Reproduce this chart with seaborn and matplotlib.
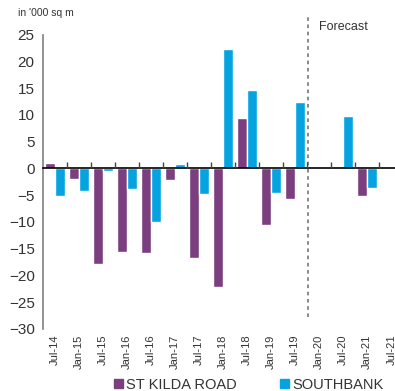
import pandas as pd
import seaborn as sns
import matplotlib.pyplot as plt
from matplotlib.patches import Patch

# Data
periods = ['Jul-14', 'Jan-15', 'Jul-15', 'Jan-16', 'Jul-16', 'Jan-17', 'Jul-17', 'Jan-18',
           'Jul-18', 'Jan-19', 'Jul-19', 'Jan-20', 'Jul-20', 'Jan-21', 'Jul-21']
st_kilda = [1.0, -2.0, -17.8, -15.7, -15.9, -2.2, -16.7, -22.1,
            9.4, -10.6, -5.8, 0.0, 0.0, -5.2, 0.0]
southbank = [-5.1, -4.3, -0.5, -3.8, -10.0, 0.9, -4.8, 22.4,
             14.6, -4.5, 12.5, 0.0, 9.8, -3.6, 0.0]
series_names = ['ST KILDA ROAD', 'SOUTHBANK']
colors = ['#7B3F80', '#05A3E0']

df = pd.DataFrame({
    'period': periods * 2,
    'series': [series_names[0]] * len(periods) + [series_names[1]] * len(periods),
    'value': st_kilda + southbank,
})

sns.set_style('white')
plt.rcParams['font.family'] = ['Liberation Sans', 'DejaVu Sans']

fig = plt.figure(figsize=(3.95, 3.91), dpi=100)
ax = fig.add_axes([0.109, 0.159, 0.912, 0.752])

sns.barplot(data=df, x='period', y='value', hue='series', order=periods,
            hue_order=series_names, palette=colors, width=0.85, saturation=1,
            legend=False, ax=ax)

ax.set_xlim(-0.5, len(periods) - 0.5)
ax.set_ylim(-30, 25)
ax.set_yticks(range(-30, 26, 5))
ax.tick_params(axis='y', length=0, labelsize=11, labelcolor='#333333', pad=6)
ax.set_xlabel('')
ax.set_ylabel('')

for s in ['top', 'right']:
    ax.spines[s].set_visible(False)
ax.spines['left'].set_color('#808080')
ax.spines['left'].set_linewidth(1.2)

# zero line with tick marks between categories
ax.spines['bottom'].set_position(('data', 0))
ax.spines['bottom'].set_color('black')
ax.spines['bottom'].set_linewidth(1.2)
ax.spines['bottom'].set_zorder(3)
ax.set_xticks([i + 0.5 for i in range(len(periods))], labels=[''] * len(periods))
ax.tick_params(axis='x', which='major', direction='in', length=4, width=1,
               color='#444444', bottom=True, labelbottom=False)
ax.xaxis.set_zorder(3.5)

# category labels along the bottom edge
lab = ax.secondary_xaxis('bottom')
lab.spines[:].set_visible(False)
lab.set_xticks(range(len(periods)), labels=periods)
lab.tick_params(axis='x', length=0, labelsize=8, labelcolor='#333333',
                labelrotation=90, pad=4)

# forecast divider
ax.axvline(10.55, ymin=0.04, ymax=1.06, color='#808080', linestyle=(0, (2, 2)),
           linewidth=1.3, clip_on=False)
ax.text(11.0, 26.4, 'Forecast', fontsize=9, color='#333333', va='center', clip_on=False)

fig.text(0.045, 0.967, "in '000 sq m", fontsize=7.5, color='#333333', va='center')

handles = [Patch(color=c, label=n) for c, n in zip(colors, series_names)]
fig.legend(handles=handles, loc='center', bbox_to_anchor=(0.63, 0.016), ncol=2,
           frameon=False, fontsize=10.5, handlelength=0.6, handleheight=0.6,
           handletextpad=0.2, columnspacing=3.0, labelcolor='#333333')

fig.savefig('out.png', dpi=100)
